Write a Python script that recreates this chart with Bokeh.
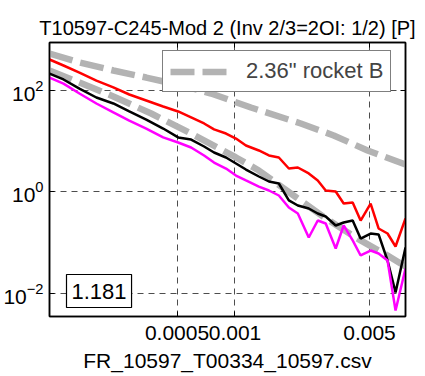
from bokeh.plotting import figure
from bokeh.models import Range1d, FixedTicker, LogAxis, Legend, LegendItem, Label
from bokeh.embed import file_html
from bokeh.resources import INLINE

FONT = "Liberation Sans"

# frequency bins shared by the three measured spectra
freq = [1.087e-4, 1.285e-4, 1.555e-4, 1.905e-4, 2.333e-4, 2.823e-4, 3.458e-4, 4.234e-4,
        5.066e-4, 5.916e-4, 6.910e-4, 7.784e-4, 8.982e-4, 1.012e-3, 1.140e-3, 1.331e-3,
        1.501e-3, 1.690e-3, 1.905e-3, 2.121e-3, 2.417e-3, 2.692e-3, 2.961e-3, 3.337e-3,
        3.671e-3, 4.088e-3, 4.496e-3, 5.066e-3, 5.574e-3, 6.204e-3, 6.828e-3, 7.691e-3]
red_vals = [408, 311, 226, 157, 115, 83.4, 63.5, 48.4, 38.6, 29.4, 22.4, 17.1, 14.2, 11.3,
            8.24, 6.58, 5.24, 4.79, 2.90, 3.04, 2.32, 1.69, 1.07, 1.02, 0.593, 0.621, 0.274,
            0.593, 0.191, 0.152, 0.0843, 0.301]
black_vals = [216, 165, 109, 72.8, 55.5, 38.6, 26.8, 17.8, 11.9, 10.8, 7.88, 6.00, 4.79, 3.65,
              2.77, 2.02, 1.61, 1.47, 0.681, 0.542, 0.473, 0.377, 0.329, 0.219, 0.251, 0.274,
              0.121, 0.152, 0.146, 0.0447, 0.0105, 0.0806]
magenta_vals = [180, 137, 87.3, 55.5, 36.9, 25.6, 17.8, 11.9, 9.44, 7.53, 5.24, 3.81, 2.90,
                2.11, 1.69, 1.28, 1.07, 0.853, 0.495, 0.377, 0.127, 0.274, 0.239, 0.0770,
                0.219, 0.111, 0.0561, 0.0703, 0.0614, 0.0447, 0.00462, 0.0311]

# reference curves (rocket B)
ref_hi_freq = [1.087e-4, 1.555e-4, 2.333e-4, 3.458e-4, 5.25e-4, 7.51e-4, 1.210e-3, 2.198e-3,
               3.258e-3, 4.887e-3, 7.691e-3]
ref_hi_vals = [536, 356, 248, 180, 126, 87.3, 46.2, 22.4, 13.0, 6.58, 3.48]
ref_lo_freq = [1.087e-4, 1.555e-4, 2.333e-4, 3.67e-4, 5.916e-4, 1.012e-3, 1.331e-3, 1.950e-3,
               2.961e-3, 4.496e-3, 6.204e-3, 7.691e-3]
ref_lo_vals = [248, 144, 76.2, 35.2, 14.2, 4.79, 2.65, 0.934, 0.301, 0.111, 0.0561, 0.0340]

x_ticks = [0.0005, 0.001, 0.005]
x_tick_labels = ["0.0005", "0.001", "0.005"]
y_ticks = [1e-2, 1e0, 1e2]

p = figure(width=425, height=376, x_axis_type="log", y_axis_type="log",
           x_range=Range1d(1.087e-4, 7.691e-3), y_range=Range1d(3.52e-3, 883),
           output_backend="svg", toolbar_location=None,
           min_border_left=48, min_border_right=20, min_border_top=42, min_border_bottom=60,
           title="T10597-C245-Mod 2 (Inv 2/3=2OI: 1/2) [P]",
           x_axis_label="FR_10597_T00334_10597.csv")

p.title.text_font = FONT
p.title.text_font_size = "20px"
p.title.text_font_style = "normal"
p.title.text_color = "black"
p.title.align = "center"
p.title.standoff = 8

p.outline_line_color = "black"
p.outline_line_width = 1.5
p.background_fill_color = "white"
p.border_fill_color = "white"

for ax in (p.xaxis[0], p.yaxis[0]):
    ax.major_tick_in = 5
    ax.major_tick_out = 0
    ax.minor_tick_line_color = None
    ax.axis_line_color = "black"
    ax.axis_line_width = 1.5
    ax.major_tick_line_color = "black"
    ax.major_label_text_font = FONT
    ax.major_label_text_font_size = "21px"
    ax.major_label_text_color = "black"
    ax.axis_label_text_font = FONT
    ax.axis_label_text_font_size = "21px"
    ax.axis_label_text_font_style = "normal"
    ax.axis_label_text_color = "black"

p.xaxis.ticker = FixedTicker(ticks=x_ticks)
p.xaxis.major_label_overrides = dict(zip(x_ticks, x_tick_labels))
p.xaxis.major_label_standoff = 9
p.xaxis.axis_label_standoff = 6
p.yaxis.ticker = FixedTicker(ticks=y_ticks)
p.yaxis.major_label_standoff = 6

# mirrored tick marks on the top and right edges (labels hidden)
for side in ("above", "right"):
    t = x_ticks if side == "above" else y_ticks
    mirror = LogAxis(ticker=FixedTicker(ticks=t), major_tick_in=5, major_tick_out=0,
                     minor_tick_line_color=None, major_label_text_font_size="1px",
                     major_label_text_color=None, major_label_standoff=0,
                     axis_line_color="black", axis_line_width=1.5)
    p.add_layout(mirror, side)

for g in (p.xgrid[0], p.ygrid[0]):
    g.grid_line_color = "#4d4d4d"
    g.grid_line_dash = "6 5"
    g.grid_line_width = 1

gray = "#b3b3b3"
r_hi = p.line(ref_hi_freq, ref_hi_vals, line_color=gray, line_width=6.5, line_dash="24 8")
p.line(ref_lo_freq, ref_lo_vals, line_color=gray, line_width=6.5, line_dash="24 8")
p.line(freq, red_vals, line_color="#ff0000", line_width=2.5)
p.line(freq, black_vals, line_color="black", line_width=2.5)
p.line(freq, magenta_vals, line_color="#ff00ff", line_width=2.5)

legend = Legend(items=[LegendItem(label='2.36" rocket B', renderers=[r_hi])],
                location=(113, 224), padding=7, margin=0, spacing=0,
                glyph_width=60, glyph_height=25, label_height=25, label_standoff=16,
                label_text_font=FONT, label_text_font_size="22px",
                border_line_color="black", border_line_width=1.2,
                background_fill_color="white", background_fill_alpha=1.0)
p.add_layout(legend)

tag = Label(x=17, y=9, x_units="screen", y_units="screen", text="1.181",
            anchor="bottom_left", padding=dict(left=5, right=5, top=9, bottom=9),
            text_font=FONT, text_font_size="22px", text_color="black",
            border_line_color="black", border_line_width=1.2,
            background_fill_color="white")
p.add_layout(tag)

open("out.html", "w").write(file_html(p, INLINE))
